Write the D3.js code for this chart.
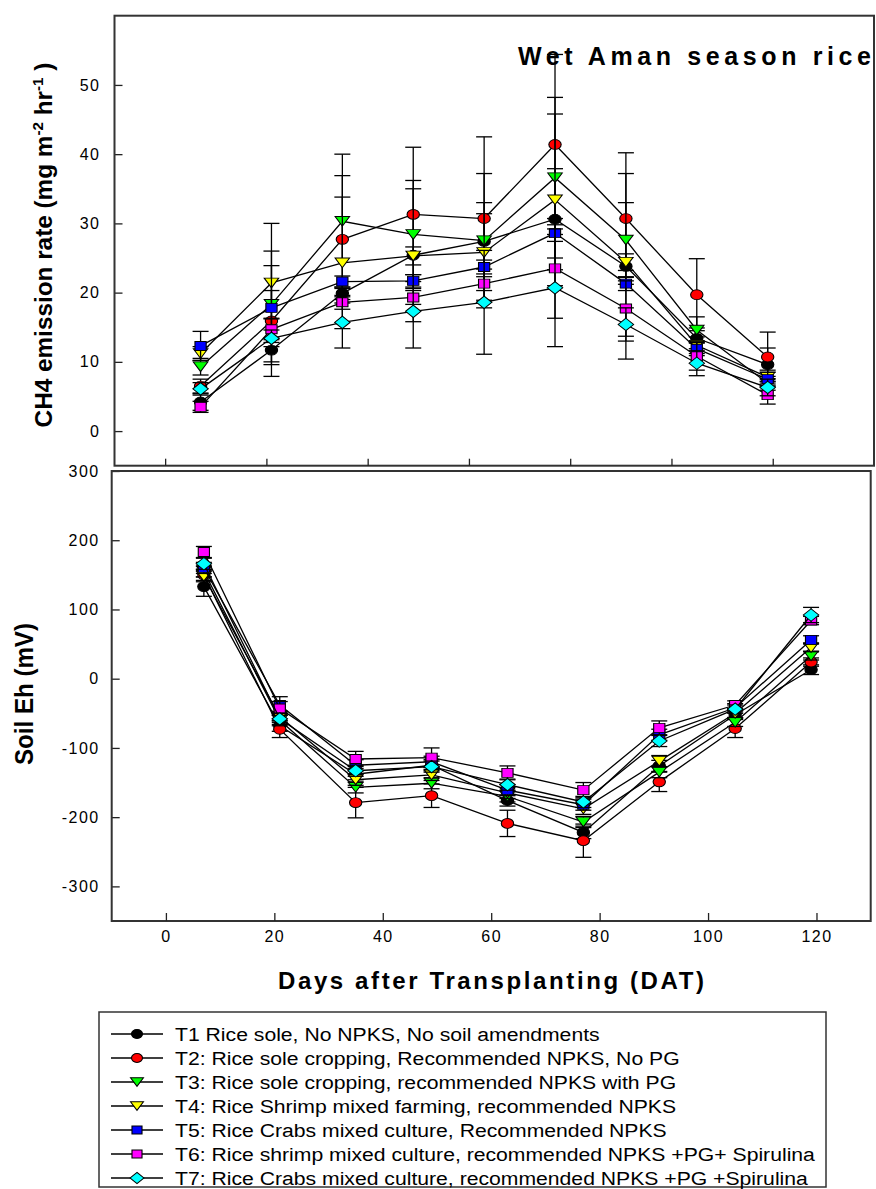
<!DOCTYPE html>
<html>
<head>
<meta charset="utf-8">
<script src="https://cdn.jsdelivr.net/npm/d3@7"></script>
<style>
  body { margin: 0; background: #fff; }
  text { font-family: "Liberation Sans", Arial, sans-serif; fill: #000; }
</style>
</head>
<body>
<svg id="chart" width="876" height="1189"></svg>
<script>
// sampling days (DAT)
const days = [7, 21, 35, 49, 63, 77, 91, 105, 119];

const treatments = [
  "T1 Rice sole, No NPKS, No soil amendments",
  "T2: Rice sole cropping, Recommended NPKS, No PG",
  "T3: Rice sole cropping, recommended NPKS with PG",
  "T4: Rice Shrimp mixed farming, recommended NPKS",
  "T5: Rice Crabs mixed culture, Recommended  NPKS",
  "T6: Rice shrimp mixed culture, recommended NPKS +PG+ Spirulina",
  "T7: Rice Crabs mixed culture, recommended NPKS +PG +Spirulina"
];
const fills = ["#000000", "#ff0000", "#00ff00", "#ffff00", "#0000ff", "#ff00ff", "#00ffff"];
const shapes = ["circle", "circle", "triDown", "triDown", "square", "square", "diamond"];

// CH4 emission rate (mg m-2 hr-1)
const ch4T1 = [4.2, 11.7, 19.9, 25.4, 27.4, 30.6, 23.8, 13.4, 9.6];
const ch4T2 = [6.5, 15.9, 27.7, 31.3, 30.7, 41.4, 30.7, 19.7, 10.7];
const ch4T3 = [9.3, 18.3, 30.3, 28.4, 27.5, 36.6, 27.6, 14.6, 6.9];
const ch4T4 = [11.2, 21.4, 24.3, 25.3, 25.8, 33.4, 24.4, 12.4, 7.8];
const ch4T5 = [12.3, 17.8, 21.6, 21.7, 23.7, 28.6, 21.3, 11.9, 7.5];
const ch4T6 = [3.5, 14.7, 18.6, 19.3, 21.3, 23.5, 17.7, 10.8, 5.2];
const ch4T7 = [6.1, 13.4, 15.7, 17.3, 18.6, 20.7, 15.4, 9.8, 6.3];

const ch4ErrT1 = [1.2, 1.7, 0.9, 9.6, 4.0, 7.3, 13.4, 1.5, 2.4];
const ch4ErrT2 = [1.0, 8.0, 9.2, 9.7, 11.8, 13.0, 9.5, 5.2, 3.6];
const ch4ErrT3 = [1.2, 2.0, 9.7, 7.8, 9.7, 11.6, 5.4, 1.9, 1.0];
const ch4ErrT4 = [1.0, 8.6, 9.5, 1.3, 7.2, 12.4, 1.2, 1.2, 1.0];
const ch4ErrT5 = [2.1, 8.2, 0.8, 0.9, 1.0, 1.2, 1.0, 1.0, 1.0];
const ch4ErrT6 = [0.8, 1.5, 1.0, 1.0, 1.0, 7.2, 4.0, 2.0, 1.3];
const ch4ErrT7 = [0.9, 1.2, 3.7, 5.3, 7.5, 8.5, 2.4, 1.8, 1.2];

// Soil Eh (mV)
const ehT1 = [133, -68, -138, -125, -176, -222, -126, -52, 13];
const ehT2 = [150, -73, -179, -169, -209, -234, -149, -72, 24];
const ehT3 = [155, -60, -157, -151, -170, -207, -135, -63, 33];
const ehT4 = [148, -55, -146, -139, -165, -188, -119, -50, 45];
const ehT5 = [160, -38, -125, -120, -161, -182, -81, -42, 56];
const ehT6 = [183, -43, -116, -114, -136, -161, -71, -38, 84];
const ehT7 = [166, -58, -133, -127, -153, -178, -90, -44, 92];

const ehErrT1 = [14, 8, 8, 8, 8, 9, 8, 6, 7];
const ehErrT2 = [8, 12, 22, 17, 19, 24, 14, 13, 6];
const ehErrT3 = [8, 8, 8, 8, 8, 8, 8, 6, 6];
const ehErrT4 = [8, 8, 8, 8, 8, 8, 8, 6, 6];
const ehErrT5 = [8, 12, 8, 8, 8, 8, 8, 6, 6];
const ehErrT6 = [8, 10, 11, 14, 10, 11, 10, 6, 6];
const ehErrT7 = [8, 8, 8, 8, 8, 8, 8, 6, 11];

const ch4Ticks = [0, 10, 20, 30, 40, 50];
const ehTicks = [-300, -200, -100, 0, 100, 200, 300];
const dayTicks = [0, 20, 40, 60, 80, 100, 120];

const ch4 = [ch4T1, ch4T2, ch4T3, ch4T4, ch4T5, ch4T6, ch4T7];
const ch4Err = [ch4ErrT1, ch4ErrT2, ch4ErrT3, ch4ErrT4, ch4ErrT5, ch4ErrT6, ch4ErrT7];
const eh = [ehT1, ehT2, ehT3, ehT4, ehT5, ehT6, ehT7];
const ehErr = [ehErrT1, ehErrT2, ehErrT3, ehErrT4, ehErrT5, ehErrT6, ehErrT7];

const svg = d3.select('#chart');

// two stacked panels
const xTop = d3.scaleLinear().domain([-10, 140]).range([114.5, 874]);
const yTop = d3.scaleLinear().domain([-5, 60]).range([465.7, 15.7]);
const xBot = d3.scaleLinear().domain([-10, 130]).range([111.7, 870.7]);
const yBot = d3.scaleLinear().domain([-350, 300]).range([921, 471]);

// marker shapes
const triDown = {
  draw(ctx, size) {
    const w = Math.sqrt(size) * 0.75, h = Math.sqrt(size) * 0.62;
    ctx.moveTo(-w, -h); ctx.lineTo(w, -h); ctx.lineTo(0, h); ctx.closePath();
  }
};
const diamond = {
  draw(ctx, size) {
    const r = Math.sqrt(size) * 0.72;
    ctx.moveTo(0, -r); ctx.lineTo(r, 0); ctx.lineTo(0, r); ctx.lineTo(-r, 0); ctx.closePath();
  }
};
function symbolPath(shape, k) {
  if (shape === 'circle') return d3.symbol(d3.symbolCircle, 95 * k)();
  if (shape === 'square') return d3.symbol(d3.symbolSquare, 100 * k)();
  if (shape === 'triDown') return d3.symbol(triDown, 75 * k)();
  return d3.symbol(diamond, 92 * k)();
}

const tickFont = '"Liberation Sans", Arial, sans-serif';

function drawPanel(x, y, values, errs, yTicks, padY) {
  const g = svg.append('g');

  // y axis, ticks inward
  g.append('g')
    .attr('transform', `translate(${x.range()[0]},0)`)
    .call(d3.axisLeft(y).tickValues(yTicks).tickSize(-8).tickPadding(padY).tickFormat(d => String(d)))
    .call(a => a.select('.domain').remove())
    .call(a => a.selectAll('line').attr('stroke', '#222').attr('stroke-width', 1.3))
    .call(a => a.selectAll('text').attr('font-size', 16).attr('letter-spacing', 1.5)
      .style('font-family', tickFont));

  // series
  values.forEach(function (vals, i) {
    const s = g.append('g');
    const err = errs[i];
    const eb = s.selectAll('g.eb')
      .data(days.map((d, j) => ({ d: d, v: vals[j], e: err[j] })))
      .join('g');
    eb.append('line')
      .attr('x1', p => x(p.d)).attr('x2', p => x(p.d))
      .attr('y1', p => y(p.v - p.e)).attr('y2', p => y(p.v + p.e))
      .attr('stroke', '#000').attr('stroke-width', 1.3);
    [-1, 1].forEach(function (sg) {
      eb.append('line')
        .attr('x1', p => x(p.d) - 8).attr('x2', p => x(p.d) + 8)
        .attr('y1', p => y(p.v + sg * p.e)).attr('y2', p => y(p.v + sg * p.e))
        .attr('stroke', '#000').attr('stroke-width', 1.3);
    });

    s.append('path')
      .datum(vals)
      .attr('fill', 'none')
      .attr('stroke', '#000')
      .attr('stroke-width', 1.3)
      .attr('d', d3.line().x((v, j) => x(days[j])).y(v => y(v)));

    s.selectAll('path.mk')
      .data(vals)
      .join('path')
      .attr('class', 'mk')
      .attr('transform', (v, j) => `translate(${x(days[j])},${y(v)}) scale(1.12,0.9)`)
      .attr('d', symbolPath(shapes[i], 1))
      .attr('fill', fills[i])
      .attr('stroke', '#000')
      .attr('stroke-width', 1);
  });

  // frame
  g.append('rect')
    .attr('x', x.range()[0]).attr('y', y.range()[1])
    .attr('width', x.range()[1] - x.range()[0])
    .attr('height', y.range()[0] - y.range()[1])
    .attr('fill', 'none').attr('stroke', '#333').attr('stroke-width', 2);
  return g;
}

drawPanel(xTop, yTop, ch4, ch4Err, ch4Ticks, 14);
// top panel x ticks (no labels)
svg.append('g')
  .attr('transform', `translate(0,${yTop.range()[0]})`)
  .call(d3.axisBottom(xTop).tickValues(dayTicks).tickSize(-7).tickFormat(''))
  .call(a => a.select('.domain').remove())
  .call(a => a.selectAll('line').attr('stroke', '#222').attr('stroke-width', 1.3));

drawPanel(xBot, yBot, eh, ehErr, ehTicks, 12);
svg.append('g')
  .attr('transform', `translate(0,${yBot.range()[0]})`)
  .call(d3.axisBottom(xBot).tickValues(dayTicks).tickSize(-8).tickPadding(10).tickFormat(d => String(d)))
  .call(a => a.select('.domain').remove())
  .call(a => a.selectAll('line').attr('stroke', '#222').attr('stroke-width', 1.3))
  .call(a => a.selectAll('text').attr('font-size', 16).attr('letter-spacing', 1.5)
    .style('font-family', tickFont));

// titles
svg.append('text')
  .attr('x', 518).attr('y', 65)
  .attr('font-size', 25).attr('font-weight', 'bold')
  .attr('textLength', 353).attr('lengthAdjust', 'spacing')
  .text('Wet Aman season rice');

svg.append('text')
  .attr('x', 278).attr('y', 989)
  .attr('font-size', 24).attr('font-weight', 'bold')
  .attr('textLength', 426).attr('lengthAdjust', 'spacing')
  .text('Days after Transplanting (DAT)');

// y titles, squeezed to the reference length
function fitRotated(t, cx, cy, len) {
  const w = t.node().getComputedTextLength();
  t.attr('text-anchor', 'middle')
    .attr('transform', `translate(${cx},${cy}) rotate(-90) scale(${len / w},1)`);
}
const yt1 = svg.append('text').attr('font-size', 24).attr('font-weight', 'bold');
yt1.append('tspan').text('CH4 emission rate (mg m');
yt1.append('tspan').attr('font-size', 15).attr('dy', -9).text('-2');
yt1.append('tspan').attr('dy', 9).text(' hr');
yt1.append('tspan').attr('font-size', 15).attr('dy', -9).text('-1');
yt1.append('tspan').attr('dy', 9).text(' )');
fitRotated(yt1, 52, 245, 365);

const yt2 = svg.append('text').attr('font-size', 26).attr('font-weight', 'bold').text('Soil Eh (mV)');
fitRotated(yt2, 33, 694, 142);

// legend
const leg = svg.append('g');
leg.append('rect')
  .attr('x', 99).attr('y', 1012).attr('width', 727).attr('height', 175)
  .attr('fill', 'none').attr('stroke', '#333').attr('stroke-width', 1.5);

const rows = leg.selectAll('g.row')
  .data(treatments)
  .join('g')
  .attr('transform', (d, i) => `translate(0,${1034 + i * 24})`);
rows.append('line')
  .attr('x1', 111).attr('x2', 163).attr('y1', 0).attr('y2', 0)
  .attr('stroke', '#000').attr('stroke-width', 1.5);
rows.append('path')
  .attr('transform', 'translate(137,0) scale(1.12,0.9)')
  .attr('d', (d, i) => symbolPath(shapes[i], 0.8))
  .attr('fill', (d, i) => fills[i])
  .attr('stroke', '#000').attr('stroke-width', 1);
const lt = rows.append('text')
  .attr('font-size', 19)
  .attr('dy', 7)
  .text(d => d);
const w6 = lt.nodes()[5].getComputedTextLength();
lt.attr('transform', `translate(175,0) scale(${640 / w6},1)`);
</script>
</body>
</html>
